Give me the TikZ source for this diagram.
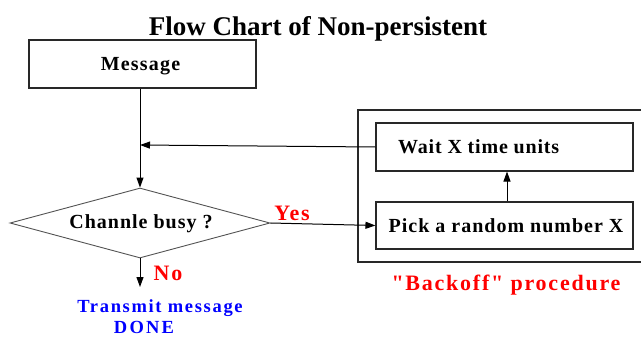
\documentclass[tikz,border=0pt]{standalone}
\usepackage{fontspec}
\setmainfont{Liberation Serif}
\usetikzlibrary{arrows.meta,shapes.geometric}
\newcommand\sizedtext[3]{{\fontsize{#1}{#1}\selectfont\bfseries\addfontfeatures{LetterSpace=#2}#3}}
\definecolor{lineclr}{RGB}{40,40,40}
\definecolor{redtxt}{RGB}{255,0,0}
\definecolor{bluetxt}{RGB}{0,0,255}
\tikzset{
  box/.style={draw=lineclr, line width=1.1pt, inner sep=0pt},
  txt/.style={anchor=base, inner sep=0pt},
  flow/.style={draw=black, line width=1pt, -{Triangle[length=10pt,width=7pt]}},
}
\begin{document}
\begin{tikzpicture}[x=1pt, y=-1pt]
\useasboundingbox (0,0) rectangle (641,338);

% title
\node[txt] (title) at (318,35) {\sizedtext{27}{0}{Flow Chart of Non-persistent}};

% start box
\node[box, minimum width=227pt, minimum height=48pt] (msg) at (142.5,64) {};
\node[txt] (msgtxt) at (140.5,70) {\sizedtext{20}{6}{Message}};

% decision
\node[box, diamond, minimum width=260pt, minimum height=70pt, draw=lineclr!80, line width=0.9pt] (busy) at (140,223) {};
\node[txt] (busytxt) at (141,228) {\sizedtext{20}{5}{Channle busy ?}};

% backoff frame (open on the right)
\draw[draw=lineclr, line width=1.1pt] (641,110) -- (358,110) -- (358,262) -- (641,262);
\node[txt] (backofftxt) at (506,290) {\color{redtxt}\sizedtext{22}{8}{\addfontfeatures{Ligatures=TeXOff}"Backoff" procedure}};

% backoff steps
\node[box, minimum width=257pt, minimum height=48pt] (wait) at (504.5,147) {};
\node[txt, anchor=base west] (waittxt) at (398,153) {\sizedtext{20}{4}{Wait X time units}};
\node[box, minimum width=257pt, minimum height=47pt] (pick) at (504.5,225.5) {};
\node[txt] (picktxt) at (506,232) {\sizedtext{20}{5}{Pick a random number X}};

% branch labels
\node[txt] (yes) at (292,220) {\color{redtxt}\sizedtext{22}{8}{Yes}};
\node[txt] (no) at (168,280) {\color{redtxt}\sizedtext{22}{8}{No}};
\node[txt] (done1) at (160,312) {\color{bluetxt}\sizedtext{18.5}{9}{Transmit message}};
\node[txt] (done2) at (144,333) {\color{bluetxt}\sizedtext{18.5}{12}{DONE}};

% connectors
\coordinate (join) at (140,145);
\coordinate (exit) at (140,287);
\draw[flow] (msg.south -| busy.north) -- (busy.north);
\draw[flow] (wait.west) -- (join);
\draw[flow] (busy.east) -- (pick.west);
\draw[flow] (pick.north -| 507,0) -- (wait.south -| 507,0);
\draw[flow] (busy.south) -- (exit);
\end{tikzpicture}
\end{document}
